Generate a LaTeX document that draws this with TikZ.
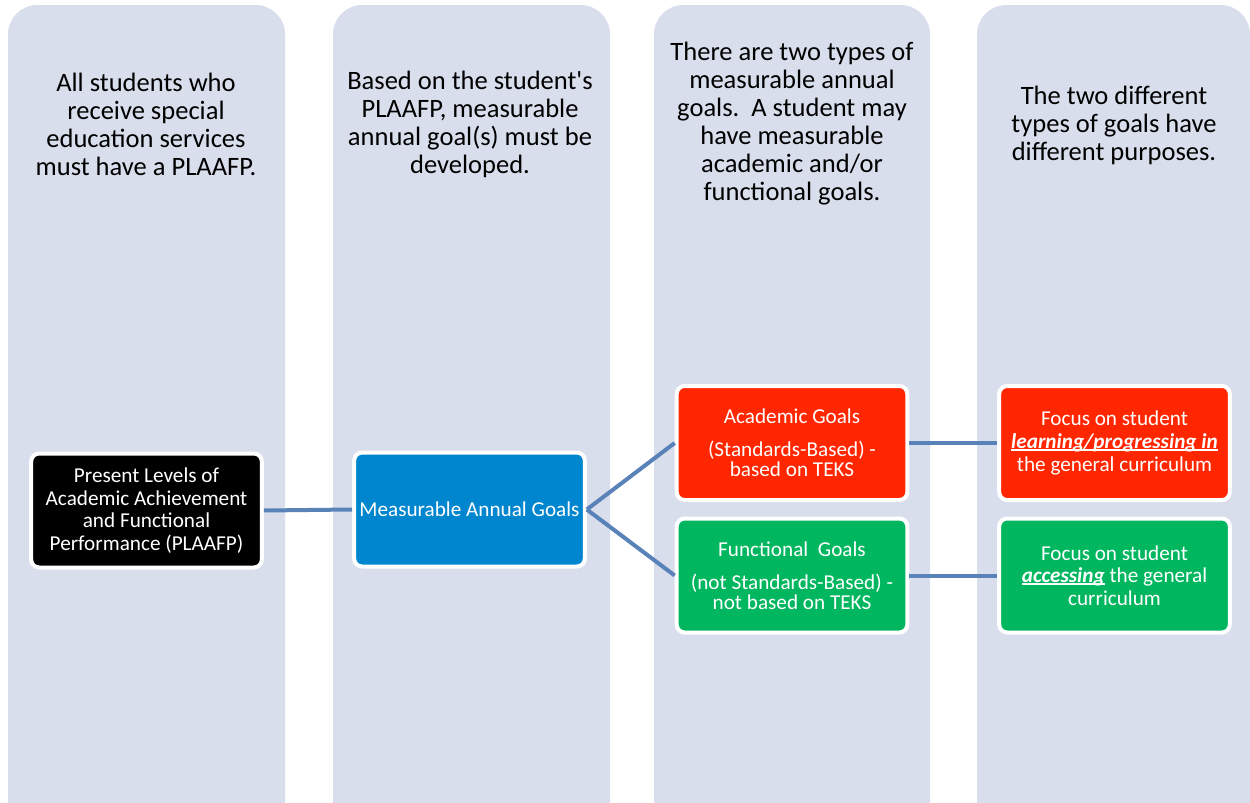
\documentclass[tikz,border=0pt]{standalone}
\usepackage{fontspec}
\setmainfont{Carlito}
\definecolor{colbg}{HTML}{D9DEEC}
\definecolor{conn}{HTML}{5882B8}
\definecolor{mblue}{HTML}{0086CF}
\definecolor{mred}{HTML}{FF2600}
\definecolor{mgreen}{HTML}{00B760}
\newcommand\myulbi[1]{\setbox0\hbox{\textbf{\textit{#1}}}\rlap{\rule[-1.6pt]{\wd0}{1.2pt}}\box0\relax}
\tikzset{
  colpanel/.style={fill=colbg, rounded corners=22pt},
  header/.style={align=center, font=\fontsize{19.9}{21}\selectfont, text=black},
  goalbox/.style={draw=white, line width=3pt, rounded corners=6pt, minimum width=173pt, minimum height=85.5pt, inner sep=0pt, align=center, text=white, font=\fontsize{15.9}{17}\selectfont},
  tightbox/.style={goalbox, font=\fontsize{15.9}{15}\selectfont},
  link/.style={draw=conn, line width=3pt},
}
\begin{document}
\begin{tikzpicture}[x=0.75pt, y=-0.75pt]
\clip (0,0) rectangle (1250,803);
\fill[white] (0,0) rectangle (1250,803);
% column panels
\path[colpanel] (8,5) rectangle (285,860);
\path[colpanel] (333,5) rectangle (610,860);
\path[colpanel] (654,5) rectangle (930,860);
\path[colpanel] (977,5) rectangle (1250,860);
% headers
\node[header] (h1) at (146,124) {All students who\\receive special\\education services\\must have a PLAAFP.};
\node[header] (h2) at (470,124) {Based on the student\textquotesingle s\\PLAAFP, measurable\\annual goal(s) must be\\developed.};
\node[header] (h3) at (792,124) {There are two types of\\measurable annual\\goals.\ \ A student may\\have measurable\\academic and/or\\functional goals.};
\node[header] (h4) at (1114,125) {The two different\\types of goals have\\different purposes.};
% boxes
\node[goalbox, fill=black] (plaafp) at (146.5,510.5) {Present Levels of\\Academic Achievement\\and Functional\\Performance (PLAAFP)};
\node[goalbox, fill=mblue] (mag) at (469.5,509.5) {Measurable Annual Goals};
\node[tightbox, fill=mred] (acad) at (792,443) {Academic Goals\\[10pt](Standards-Based) -\\based on TEKS};
\node[tightbox, fill=mgreen] (func) at (792,575.5) {Functional\ \ Goals\\[10pt](not Standards-Based) -\\not based on TEKS};
\node[goalbox, fill=mred] (focus1) at (1114.5,443) {Focus on student\\\myulbi{learning/progressing in}\\the general curriculum};
\node[goalbox, fill=mgreen] (focus2) at (1114.5,575.5) {Focus on student\\\myulbi{accessing} the general\\curriculum};
% connectors
\draw[link] (plaafp.east) -- (mag.west);
\draw[link] (mag.east) -- (acad.west);
\draw[link] (mag.east) -- (func.west);
\draw[link] (acad.east) -- (focus1.west);
\draw[link] (func.east) -- (focus2.west);
\end{tikzpicture}
\end{document}
